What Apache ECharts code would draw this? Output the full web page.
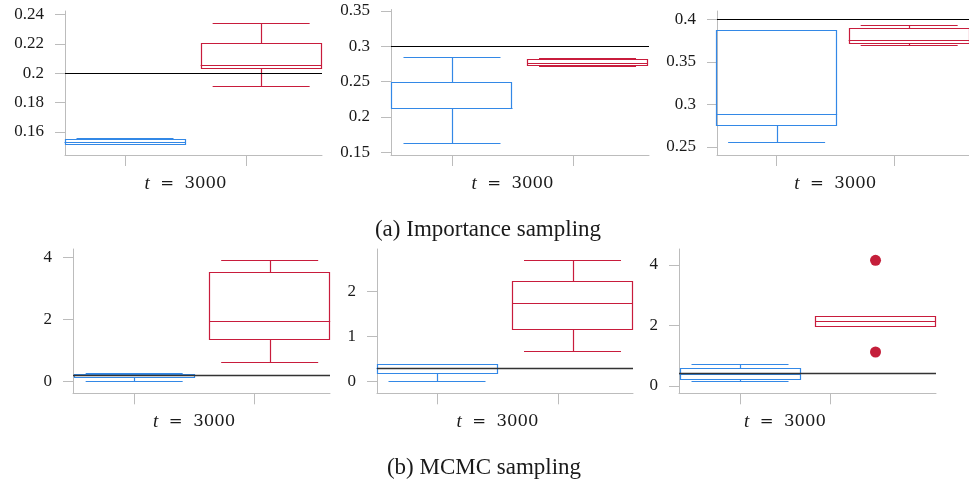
<!DOCTYPE html>
<html>
<head>
<meta charset="utf-8">
<script src="https://cdn.jsdelivr.net/npm/echarts@6/dist/echarts.min.js"></script>
<style>
html,body{margin:0;padding:0;background:#fff;}
#chart{width:969px;height:480px;}
</style>
</head>
<body>
<div id="chart"></div>
<script>
// ---------------- data ----------------
const xVar = 't';
const xValue = '3000';
const captions = ['(a) Importance sampling', '(b) MCMC sampling'];

// y tick labels per panel
const yTicksA = [0.16, 0.18, 0.2, 0.22, 0.24];
const yTicksB = [0.15, 0.2, 0.25, 0.3, 0.35];
const yTicksC = [0.25, 0.3, 0.35, 0.4];
const yTicksD = [0, 2, 4];
const yTicksE = [0, 1, 2];
const yTicksF = [0, 2, 4];

// box statistics: [min, Q1, median, Q3, max]
const isBlue1 = [0.1516, 0.1520, 0.1533, 0.1555, 0.1558];
const isRed1  = [0.1913, 0.2034, 0.2059, 0.2209, 0.2343];
const isBlue2 = [0.1636, 0.2122, 0.2125, 0.2500, 0.2849];
const isRed2  = [0.2725, 0.2731, 0.2763, 0.2816, 0.2840];
const isBlue3 = [0.2555, 0.2757, 0.2890, 0.3878, 0.3878];
const isRed3  = [0.3698, 0.3725, 0.3755, 0.3894, 0.3933];
const mcBlue1 = [0.00, 0.14, 0.19, 0.24, 0.26];
const mcRed1  = [0.628, 1.372, 1.945, 3.527, 3.916];
const mcBlue2 = [0.00, 0.178, 0.30, 0.38, 0.39];
const mcRed2  = [0.683, 1.167, 1.755, 2.245, 2.70];
const mcBlue3 = [0.165, 0.231, 0.41, 0.605, 0.717];
const mcRed3  = [1.993, 1.993, 2.159, 2.324, 2.324];
const mcRedOutliers3 = [4.155, 1.124];

// reference (true value) lines
const refValues = [0.2, 0.3, 0.4, 0.2, 0.3, 0.41];

// ---------------- layout / style ----------------
const BLUE = '#3388e6';
const RED = '#c81c3c';
const AXIS = '#bcbcbc';
const TEXT = '#1a1a1a';
const FONT = '"Liberation Serif", "Times New Roman", serif';
const MATH_FONT = '"DejaVu Serif", serif';
const BOX_W = 121;
const CAP_W = 97;

const layout = [
  {left: 65,  top: 11,  width: 257, height: 144,   xMin: 0.504, xMax: 2.628, yMin: 0.1443, yMax: 0.2425, pos: [1, 2.125]},
  {left: 391, top: 9.5, width: 258, height: 145.5, xMin: 0.496, xMax: 2.628, yMin: 0.1462, yMax: 0.3521, pos: [1, 2.12]},
  {left: 717, top: 11,  width: 258, height: 144,   xMin: 0.492, xMax: 2.64,  yMin: 0.2406, yMax: 0.4097, pos: [1, 2.13]},
  {left: 73,  top: 249, width: 257, height: 144.3, xMin: 0.49,  xMax: 2.633, yMin: -0.388, yMax: 4.28,   pos: [1, 2.13]},
  {left: 377, top: 249, width: 256, height: 144.3, xMin: 0.504, xMax: 2.62,  yMin: -0.268, yMax: 2.953,  pos: [1, 2.12]},
  {left: 679, top: 249, width: 257, height: 144.3, xMin: 0.322, xMax: 3.178, yMin: -0.241, yMax: 4.529,  pos: [1, 2.506]}
];

const panelTicks = [yTicksA, yTicksB, yTicksC, yTicksD, yTicksE, yTicksF];
const panelBoxes = [
  [isBlue1, isRed1], [isBlue2, isRed2], [isBlue3, isRed3],
  [mcBlue1, mcRed1], [mcBlue2, mcRed2], [mcBlue3, mcRed3]
];

function makeRender(color) {
  return function (params, api) {
    const x = api.value(0);
    const pMin = api.coord([x, api.value(1)]);
    const pQ1 = api.coord([x, api.value(2)]);
    const pMed = api.coord([x, api.value(3)]);
    const pQ3 = api.coord([x, api.value(4)]);
    const pMax = api.coord([x, api.value(5)]);
    const cx = pMin[0];
    const r = v => Math.round(v) + 0.5;
    const st = {stroke: color, lineWidth: 1.2, fill: 'none'};
    const hw = BOX_W / 2, cw = CAP_W / 2;
    const line = (x1, y1, x2, y2) => ({type: 'line', shape: {x1: x1, y1: r(y1), x2: x2, y2: r(y2)}, style: st});
    const vline = (y1, y2) => ({type: 'line', shape: {x1: r(cx), y1: y1, x2: r(cx), y2: y2}, style: st});
    return {
      type: 'group',
      children: [
        vline(r(pQ3[1]), r(pMax[1])),
        vline(r(pQ1[1]), r(pMin[1])),
        line(cx - cw, pMax[1], cx + cw, pMax[1]),
        line(cx - cw, pMin[1], cx + cw, pMin[1]),
        {type: 'rect', shape: {x: Math.round(cx - hw) + 0.5, y: r(pQ3[1]), width: BOX_W - 1, height: r(pQ1[1]) - r(pQ3[1])}, style: st},
        line(cx - hw, pMed[1], cx + hw, pMed[1])
      ]
    };
  };
}

const grids = [], xAxes = [], yAxes = [], series = [];
layout.forEach((L, i) => {
  grids.push({left: L.left, top: L.top, width: L.width, height: L.height, containLabel: false});
  xAxes.push({
    type: 'value', gridIndex: i, min: L.xMin, max: L.xMax,
    axisLine: {show: true, onZero: false, lineStyle: {color: AXIS, width: 1}},
    axisTick: {show: true, customValues: [1, 2], length: 11, lineStyle: {color: AXIS, width: 1}},
    axisLabel: {
      show: true, customValues: [1.5], margin: 19,
      formatter: () => '{i|' + xVar + '}{n|  =  ' + xValue + '}',
      fontFamily: FONT, fontSize: 19, color: TEXT,
      rich: {
        i: {fontStyle: 'italic', fontFamily: FONT, fontSize: 19, color: TEXT},
        n: {fontFamily: MATH_FONT, fontSize: 16.5, color: TEXT}
      }
    },
    splitLine: {show: false}
  });
  yAxes.push({
    type: 'value', gridIndex: i, min: L.yMin, max: L.yMax,
    axisLine: {show: true, onZero: false, lineStyle: {color: AXIS, width: 1}},
    axisTick: {show: true, customValues: panelTicks[i], length: 10, lineStyle: {color: AXIS, width: 1}},
    axisLabel: {show: true, customValues: panelTicks[i], margin: 21, fontFamily: FONT, fontSize: 17, color: TEXT},
    splitLine: {show: false}
  });
  const [blue, red] = panelBoxes[i];
  series.push({
    type: 'custom', xAxisIndex: i, yAxisIndex: i, renderItem: makeRender(BLUE), clip: false,
    data: [[L.pos[0]].concat(blue)], z: 2
  });
  series.push({
    type: 'custom', xAxisIndex: i, yAxisIndex: i, renderItem: makeRender(RED), clip: false,
    data: [[L.pos[1]].concat(red)], z: 2,
    markLine: {
      silent: true, symbol: ['none', 'none'], label: {show: false}, animation: false,
      lineStyle: {color: i < 3 ? '#000' : '#333', width: i < 3 ? 1 : 1.3, type: 'solid', opacity: 1},
      emphasis: {disabled: true},
      data: [{yAxis: refValues[i]}]
    }
  });
  if (i === 5) {
    series.push({
      type: 'scatter', xAxisIndex: i, yAxisIndex: i, symbol: 'circle', symbolSize: 11,
      itemStyle: {color: '#c41e3a', opacity: 1},
      data: mcRedOutliers3.map(v => [L.pos[1], v]), z: 3
    });
  }
});

const chart = echarts.init(document.getElementById('chart'), null, {renderer: 'canvas'});
chart.setOption({
  animation: false,
  grid: grids, xAxis: xAxes, yAxis: yAxes, series: series,
  graphic: [
    {type: 'text', style: {text: captions[0], x: 488, y: 230, align: 'center', verticalAlign: 'middle', fontFamily: FONT, fontSize: 23, fill: TEXT}},
    {type: 'text', style: {text: captions[1], x: 484, y: 468, align: 'center', verticalAlign: 'middle', fontFamily: FONT, fontSize: 23, fill: TEXT}}
  ]
});
</script>
</body>
</html>
